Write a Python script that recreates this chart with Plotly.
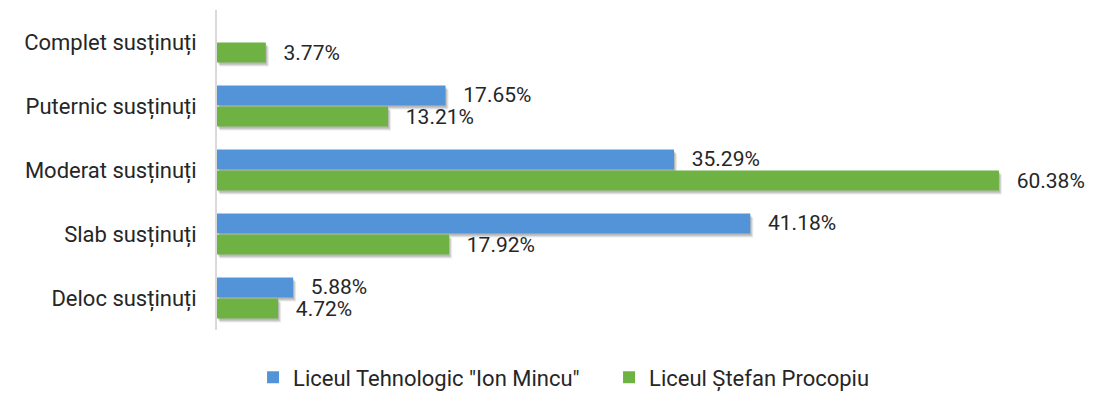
import plotly.graph_objects as go

categories = ["Complet susținuți", "Puternic susținuți", "Moderat susținuți",
              "Slab susținuți", "Deloc susținuți"]
ion_mincu = [None, 17.65, 35.29, 41.18, 5.88]
stefan_procopiu = [3.77, 13.21, 60.38, 17.92, 4.72]
series_names = ['Liceul Tehnologic "Ion Mincu"', "Liceul Ștefan Procopiu"]

BLUE = "#5394d8"
GREEN = "#6fb244"
FONT = "Roboto"
TXT = "#262626"

X_MAX = 66.1               # value axis span
PX_PER_UNIT = 856 / X_MAX  # plot width / span
CAT_PX = 64                # pixel height of one category band
Y_RANGE = [4.5, -0.5]      # categories listed top to bottom

fig = go.Figure()

# soft drop shadow: translucent copies on the base axes and shifted overlays
shadow_layers = [(1, 2, 0.12), (2, 3, 0.10), (3, 4, 0.08)]
for i, (dx, dy, a) in enumerate(shadow_layers):
    sx = dx / PX_PER_UNIT
    sy = dy / CAT_PX
    xa, ya = ("x", "y") if i == 0 else (f"x{i + 1}", f"y{i + 1}")
    for vals in (ion_mincu, stefan_procopiu):
        fig.add_trace(go.Bar(
            y=categories, x=vals, orientation="h", showlegend=False,
            hoverinfo="skip",
            marker=dict(color=f"rgba(0,0,0,{a})", line=dict(width=0)),
            xaxis=xa, yaxis=ya,
        ))
    xkey = "xaxis" if i == 0 else f"xaxis{i + 1}"
    ykey = "yaxis" if i == 0 else f"yaxis{i + 1}"
    fig.layout[xkey] = dict(range=[-sx, X_MAX - sx], visible=False, fixedrange=True)
    fig.layout[ykey] = dict(type="category", range=[Y_RANGE[0] - sy, Y_RANGE[1] - sy],
                            visible=False)
    if i > 0:
        fig.layout[xkey].overlaying = "x"
        fig.layout[ykey].overlaying = "y"

# the bars themselves, on the topmost overlay, which also carries the category axis
top = len(shadow_layers) + 1
for name, vals, color in [(series_names[0], ion_mincu, BLUE),
                          (series_names[1], stefan_procopiu, GREEN)]:
    fig.add_trace(go.Bar(
        y=categories, x=vals, name=name, orientation="h",
        marker=dict(color=color, line=dict(width=0)),
        text=[None if v is None else f"{v:.2f}%" for v in vals],
        texttemplate="  \u2009%{text}",
        textposition="outside", cliponaxis=False, constraintext="none",
        textfont=dict(family=FONT, size=21, color=TXT),
        xaxis=f"x{top}", yaxis=f"y{top}",
    ))
fig.layout[f"xaxis{top}"] = dict(overlaying="x", range=[0, X_MAX],
                                 showgrid=False, zeroline=False, showline=False,
                                 showticklabels=False, fixedrange=True)
fig.layout[f"yaxis{top}"] = dict(overlaying="y", type="category", range=Y_RANGE,
                                 side="left", anchor=f"x{top}",
                                 showline=True, linecolor="#d9d9d9", linewidth=2,
                                 ticks="", ticklabelstandoff=14, showgrid=False,
                                 zeroline=False,
                                 tickfont=dict(family=FONT, size=22, color=TXT))

fig.update_layout(
    width=1095, height=393,
    margin=dict(l=217, r=22, t=10, b=63, autoexpand=False),
    paper_bgcolor="white", plot_bgcolor="white",
    barmode="group", bargap=0.34, bargroupgap=0.05,
    font=dict(family=FONT, size=22, color=TXT),
    legend=dict(orientation="h", x=0.458, xanchor="center",
                y=-0.148, yanchor="middle",
                traceorder="normal",
                font=dict(family=FONT, size=22, color=TXT),
                itemwidth=30, entrywidth=311),
    showlegend=True,
)

fig.write_html("out.html")
